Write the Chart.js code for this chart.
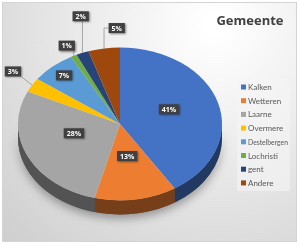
<!DOCTYPE html>
<html>
<head>
<meta charset="utf-8">
<script src="https://cdn.jsdelivr.net/npm/chart.js@4.4.1/dist/chart.umd.min.js"></script>
<style>
  html, body { margin: 0; padding: 0; background: #fff; }
  canvas { display: block; }
</style>
</head>
<body>
<canvas id="gemeenteChart" width="300" height="246"></canvas>
<script>
// Gegevens
const gemeenten = ['Kalken', 'Wetteren', 'Laarne', 'Overmere', 'Destelbergen', 'Lochristi', 'gent', 'Andere'];
const percentages = [41, 13, 28, 3, 7, 1, 2, 5];
const kleuren = ['#4472C4', '#ED7D31', '#A5A5A5', '#FFC000', '#5B9BD5', '#70AD47', '#264478', '#9E480E'];
const titel = 'Gemeente';

// 3D look
const tilt = 0.75;
const depth = 14;

// waar de labels komen: factor van de straal, verschuiving x/y, knikende lijn
const labelSpot = [
  { f: 0.5, dx: 0, dy: -4 },
  { f: 0.45, dx: 0, dy: -2 },
  { f: 0.5, dx: 0, dy: -7 },
  { f: 1.22, dx: 0, dy: -5 },
  { f: 0.83, dx: 0, dy: -1 },
  { f: 1.15, dx: 0, dy: 0 },
  { f: 1.5, dx: 17, dy: -1, elbow: true },
  { f: 1.27, dx: 17, dy: 0, elbow: true }
];

function darken(hex, f) {
  const n = parseInt(hex.slice(1), 16);
  const r = Math.round(((n >> 16) & 255) * f);
  const g = Math.round(((n >> 8) & 255) * f);
  const b = Math.round((n & 255) * f);
  return 'rgb(' + r + ',' + g + ',' + b + ')';
}

const pie3d = {
  id: 'pie3d',
  beforeDraw(chart) {
    const ctx = chart.ctx;
    ctx.save();
    ctx.fillStyle = '#fff';
    ctx.fillRect(0, 0, chart.width, chart.height);
    const g = ctx.createRadialGradient(215, 25, 10, 215, 25, 310);
    g.addColorStop(0, '#ffffff');
    g.addColorStop(1, '#cdcdcd');
    ctx.fillStyle = g;
    ctx.fillRect(2.5, 2.5, 294, 239);
    ctx.strokeStyle = '#d4d4d4';
    ctx.lineWidth = 1;
    ctx.strokeRect(2.5, 2.5, 294, 239);
    ctx.restore();
  },
  beforeDatasetsDraw(chart) {
    const ctx = chart.ctx;
    const arcs = chart.getDatasetMeta(0).data;
    const cx = arcs[0].x, cy = arcs[0].y, r = arcs[0].outerRadius;

    // schaduw onder de taart
    ctx.save();
    ctx.shadowColor = 'rgba(0,0,0,0.35)';
    ctx.shadowBlur = 10;
    ctx.shadowOffsetY = 4;
    ctx.fillStyle = '#555';
    ctx.beginPath();
    ctx.ellipse(cx, cy, r, r * tilt, 0, 0, Math.PI, false);
    ctx.ellipse(cx, cy + depth, r, r * tilt, 0, Math.PI, 0, true);
    ctx.closePath();
    ctx.fill();
    ctx.restore();

    // zijkant per stuk
    ctx.save();
    arcs.forEach((arc, i) => {
      const s = Math.max(arc.startAngle, 0);
      const e = Math.min(arc.endAngle, Math.PI);
      if (s >= e) return;
      ctx.fillStyle = darken(kleuren[i], 0.5);
      ctx.beginPath();
      ctx.ellipse(cx, cy, r, r * tilt, 0, s, e, false);
      ctx.ellipse(cx, cy + depth, r, r * tilt, 0, e, s, true);
      ctx.closePath();
      ctx.fill();
    });
    ctx.restore();

    // bovenkant platdrukken
    ctx.save();
    ctx.translate(0, cy * (1 - tilt));
    ctx.scale(1, tilt);
  },
  afterDatasetsDraw(chart) {
    const ctx = chart.ctx;
    ctx.restore();

    const arcs = chart.getDatasetMeta(0).data;
    const cx = arcs[0].x, cy = arcs[0].y, r = arcs[0].outerRadius;

    ctx.save();
    ctx.font = 'bold 7px "Open Sans"';
    ctx.textAlign = 'center';
    ctx.textBaseline = 'middle';
    arcs.forEach((arc, i) => {
      const spot = labelSpot[i];
      const mid = (arc.startAngle + arc.endAngle) / 2;
      const px = cx + spot.f * r * Math.cos(mid) + spot.dx;
      const py = cy + tilt * spot.f * r * Math.sin(mid) + spot.dy;
      const txt = percentages[i] + '%';
      const w = ctx.measureText(txt).width + 6;
      const h = 10;
      const bx0 = px - w / 2, bx1 = px + w / 2, by0 = py - h / 2, by1 = py + h / 2;

      if (spot.f > 1) {
        const ex = cx + r * Math.cos(mid);
        const ey = cy + tilt * r * Math.sin(mid);
        ctx.strokeStyle = '#a6a6a6';
        ctx.lineWidth = 1;
        ctx.beginPath();
        ctx.moveTo(ex, ey);
        if (spot.elbow) {
          if (ex >= bx0 && ex <= bx1) {
            ctx.lineTo(ex, ey < by0 ? by0 : by1);
          } else {
            ctx.lineTo(ex, py);
            ctx.lineTo(ex < bx0 ? bx0 : bx1, py);
          }
        } else {
          ctx.lineTo(Math.min(Math.max(ex, bx0), bx1), Math.min(Math.max(ey, by0), by1));
        }
        ctx.stroke();
      }

      ctx.save();
      ctx.shadowColor = 'rgba(0,0,0,0.45)';
      ctx.shadowBlur = 2;
      ctx.shadowOffsetX = 1;
      ctx.shadowOffsetY = 1;
      ctx.fillStyle = '#404040';
      ctx.fillRect(bx0, by0, w, h);
      ctx.restore();
      ctx.fillStyle = '#ffffff';
      ctx.fillText(txt, px, py + 0.5);
    });
    ctx.restore();
  },
  afterDraw(chart) {
    const ctx = chart.ctx;
    ctx.save();
    // titel
    ctx.fillStyle = '#404040';
    ctx.font = 'bold 13px "Open Sans"';
    ctx.textAlign = 'center';
    ctx.textBaseline = 'middle';
    ctx.fillText(titel, 250, 21);

    // legenda
    ctx.fillStyle = 'rgba(245,245,245,0.6)';
    ctx.fillRect(237, 79, 53, 112);
    ctx.font = '8px Lato';
    ctx.textAlign = 'left';
    gemeenten.forEach((naam, i) => {
      const y = 87 + i * 13.7;
      ctx.fillStyle = kleuren[i];
      ctx.fillRect(241, y - 2.5, 5, 5);
      ctx.fillStyle = '#595959';
      ctx.fillText(naam, 248, y + 0.5, 40);
    });
    ctx.restore();
  }
};

try {
  const ctx = document.getElementById('gemeenteChart').getContext('2d');
  const chart = new Chart(ctx, {
    type: 'pie',
    data: {
      labels: gemeenten,
      datasets: [{
        label: titel,
        data: percentages,
        backgroundColor: kleuren,
        borderWidth: 0,
        clip: false
      }]
    },
    options: {
      responsive: false,
      animation: false,
      events: [],
      layout: {
        padding: { left: 18, right: 78, top: 22, bottom: 20 }
      },
      plugins: {
        legend: { display: false },
        title: { display: false },
        tooltip: { enabled: false }
      }
    },
    plugins: [pie3d]
  });
} catch (error) {
  console.log(error);
}
</script>
</body>
</html>
